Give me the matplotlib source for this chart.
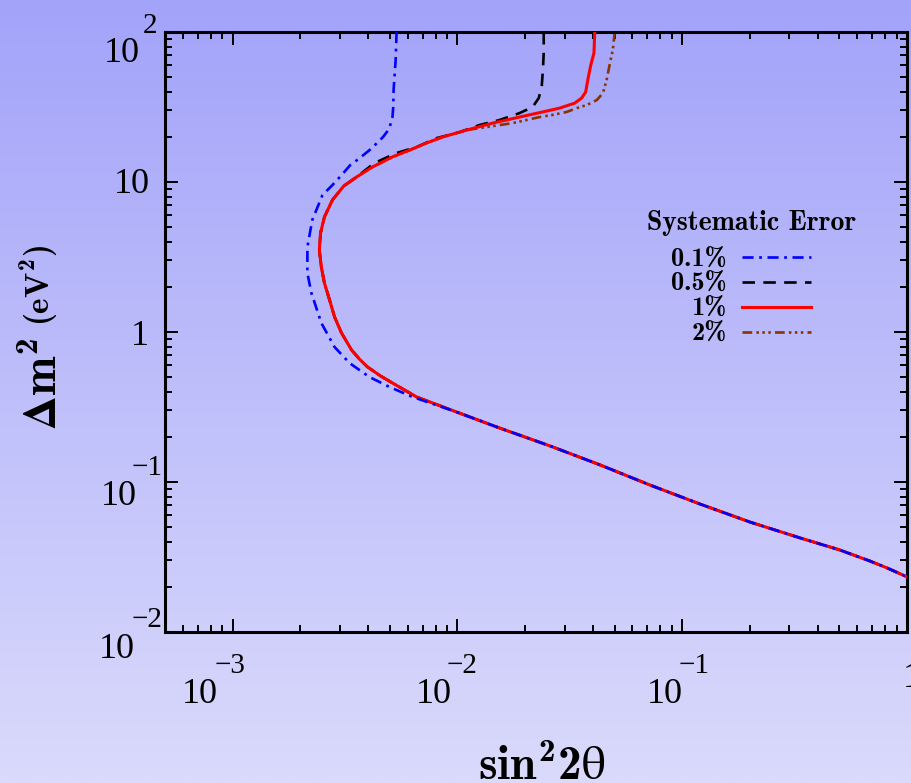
import numpy as np
import matplotlib
matplotlib.use('Agg')
import matplotlib.pyplot as plt
import matplotlib.transforms as mtransforms
from matplotlib.ticker import NullFormatter

plt.rcParams['mathtext.fontset'] = 'custom'
plt.rcParams['mathtext.rm'] = 'cmb10'
plt.rcParams['mathtext.it'] = 'cmb10'
plt.rcParams['mathtext.bf'] = 'cmb10'
plt.rcParams['mathtext.default'] = 'rm'
plt.rcParams['mathtext.fallback'] = 'stix'
plt.rcParams['lines.scale_dashes'] = False

# ---------------- data ----------------
# upper part of the 1% contour
red_upper_x = [0.0408, 0.0405, 0.0392, 0.0380, 0.0372, 0.0357, 0.0333, 0.0285, 0.0249,
               0.0189, 0.01435, 0.0110, 0.00859, 0.00729, 0.00612, 0.00514, 0.00419]
red_upper_y = [100, 72.4, 60.3, 47.9, 39.8, 36.3, 33.6, 31.1, 29.7,
               27.1, 24.7, 22.2, 19.95, 18.2, 16.3, 14.7, 12.6]
# nose region shared by 0.5%, 1%, 2%
nose_x = [0.00356, 0.00312, 0.00278, 0.00256, 0.00246, 0.00243, 0.00248, 0.00256,
          0.00270, 0.00284, 0.00305, 0.00338, 0.00366, 0.00398, 0.00455, 0.00514, 0.00658]
nose_y = [10.8, 9.40, 7.59, 5.85, 4.57, 3.52, 2.71, 2.12,
          1.63, 1.26, 0.985, 0.759, 0.661, 0.585, 0.509, 0.457, 0.369]
# low-mass tail shared by all curves
tail_x = [0.0099, 0.0154, 0.0258, 0.0431, 0.0718, 0.120, 0.200, 0.334, 0.500, 0.685,
          0.817, 1.0]
tail_y = [0.293, 0.229, 0.174, 0.130, 0.0955, 0.0713, 0.0541, 0.0424, 0.0353, 0.0297,
          0.0267, 0.0233]
# 0.5% upper part
black_upper_x = [0.0242, 0.0242, 0.0240, 0.0237, 0.0230, 0.0216, 0.0189, 0.0154, 0.01256,
                 0.01023, 0.00807, 0.00658, 0.00536, 0.00428]
black_upper_y = [100, 72.4, 55.8, 43.0, 36.3, 31.6, 28.8, 25.9, 24.0,
                 21.5, 19.6, 17.1, 15.6, 13.4]
# 2% upper part
brown_upper_x = [0.0501, 0.0491, 0.0477, 0.0461, 0.0444, 0.0417, 0.0376, 0.0340, 0.0306,
                 0.0265, 0.0232, 0.0203, 0.0176, 0.0110, 0.00859, 0.00729, 0.00612,
                 0.00514, 0.00419]
brown_upper_y = [100, 75.9, 62.1, 47.9, 39.2, 35.2, 32.6, 31.1, 29.3,
                 28.0, 27.1, 25.9, 24.7, 22.2, 19.95, 18.2, 16.3, 14.7, 12.6]
# 0.1% contour (down to where it joins the tail)
blue_x = [0.00536, 0.00531, 0.00520, 0.00518, 0.00514, 0.00497, 0.00466, 0.00432, 0.00406,
          0.00360, 0.00334, 0.00305, 0.00278, 0.00251, 0.00226, 0.00215, 0.00215, 0.00224,
          0.00248, 0.00284, 0.00331, 0.00406, 0.00499, 0.00631]
blue_y = [100, 65.1, 41.1, 31.6, 27.1, 22.6, 19.9, 17.8, 16.3,
          14.1, 13.0, 11.1, 9.55, 8.19, 5.58, 3.69, 2.47, 1.82,
          1.148, 0.794, 0.621, 0.501, 0.430, 0.369]

labels = ['0.1%', '0.5%', '1%', '2%']
legend_title = 'Systematic Error'

xticks = [1e-3, 1e-2, 1e-1, 1.0]
xtick_mant = ['10', '10', '10', '1']
xtick_exp = ['\u22123', '\u22122', '\u22121', '']
yticks = [1e2, 10.0, 1.0, 1e-1, 1e-2]
ytick_mant = ['10', '10', '1', '10', '10']
ytick_exp = ['2', '', '', '\u22121', '\u22122']

# ---------------- figure ----------------
W, H = 911, 783
fig = plt.figure(figsize=(W / 100, H / 100), dpi=100)
top_col = np.array([163, 163, 250]) / 255
bot_col = np.array([218, 218, 252]) / 255
fig.patch.set_facecolor(bot_col)
bg = fig.add_axes([0, 0, 1, 1], zorder=-5)
t = np.linspace(0, 1, 256)[:, None]
grad = (top_col[None, :] * (1 - t) + bot_col[None, :] * t)[:, None, :]
bg.imshow(grad, aspect='auto', extent=[0, 1, 0, 1], origin='upper', interpolation='bilinear')
bg.axis('off')

ax = fig.add_axes([165 / W, (H - 632) / H, 742 / W, 600 / H])
ax.set_facecolor('none')
ax.set_xscale('log')
ax.set_yscale('log')
ax.set_xlim(5e-4, 1.0)
ax.set_ylim(1e-2, 1e2)

def cat(*parts):
    return np.concatenate([np.asarray(p, float) for p in parts])

x05 = cat(black_upper_x, nose_x, tail_x); y05 = cat(black_upper_y, nose_y, tail_y)
x2 = cat(brown_upper_x, nose_x, tail_x); y2 = cat(brown_upper_y, nose_y, tail_y)
x1 = cat(red_upper_x, nose_x, tail_x); y1 = cat(red_upper_y, nose_y, tail_y)
x01 = cat(blue_x, tail_x); y01 = cat(blue_y, tail_y)

l2, = ax.plot(x2, y2, color='#8a3300', lw=1.9, dashes=[7, 3, 1.8, 2.5, 1.8, 2.5, 1.8, 3],
              label=labels[3], zorder=2)
l05, = ax.plot(x05, y05, color='black', lw=1.9, dashes=[9, 6], label=labels[1], zorder=3)
l1, = ax.plot(x1, y1, color='#ff0000', lw=2.2, label=labels[2], zorder=4)
l01, = ax.plot(x01, y01, color='#0000ff', lw=1.9, dashes=[8, 4, 2, 4], label=labels[0], zorder=5)

for s in ax.spines.values():
    s.set_linewidth(2.2)
ax.tick_params(which='both', direction='in', top=True, right=True, width=1.4)
ax.tick_params(which='major', length=9.5)
ax.tick_params(which='minor', length=5)
for a in (ax.xaxis, ax.yaxis):
    a.set_major_formatter(NullFormatter())
    a.set_minor_formatter(NullFormatter())

def off(base, dx, dy):
    return base + mtransforms.ScaledTranslation(dx / 100, -dy / 100, fig.dpi_scale_trans)

tick_font = dict(family='Liberation Serif', color='black')
# x tick labels (offsets in pixels)
x_mant_dx = [-15, -6, 1, -4]
x_exp_dx = [-18, -11, -4, 0]
for v, m, e, dm, de in zip(xticks, xtick_mant, xtick_exp, x_mant_dx, x_exp_dx):
    bt = ax.get_xaxis_transform()
    if e:
        ax.text(v, 0, m, transform=off(bt, dm, 71), ha='right', va='baseline', fontsize=26,
                clip_on=False, **tick_font)
        ax.text(v, 0, e, transform=off(bt, de, 41), ha='left', va='baseline', fontsize=21,
                clip_on=False, **tick_font)
    else:
        ax.text(v, 0, m, transform=off(bt, dm, 55), ha='left', va='baseline', fontsize=26,
                clip_on=False, **tick_font)

# y tick labels
y_mant_dx = [-25, -15, -16, -28, -30]
y_mant_dy = [30, 11, 13, 23, 26]
y_exp_dx = [-22, 0, 0, -33, -33]
y_exp_dy = [1, 0, 0, -7, -5]
for v, m, e, mx, my, ex, ey in zip(yticks, ytick_mant, ytick_exp, y_mant_dx, y_mant_dy,
                                    y_exp_dx, y_exp_dy):
    bt = ax.get_yaxis_transform()
    ax.text(0, v, m, transform=off(bt, mx, my), ha='right', va='baseline', fontsize=26,
            clip_on=False, **tick_font)
    if e:
        ax.text(0, v, e, transform=off(bt, ex, ey), ha='left', va='baseline', fontsize=21,
                clip_on=False, **tick_font)

# axis labels
fig.text(542 / W, (H - 780) / H, r'$sin^{2}2\theta$', fontsize=34, ha='center', va='baseline')
fig.text(57 / W, (H - 430) / H, r'$\mathbf{\Delta}m^{2}$', fontsize=34, rotation=90,
         rotation_mode='anchor', ha='left', va='baseline')
fig.text(49 / W, (H - 326) / H, r'$(eV^{2})$', fontsize=24, rotation=90,
         rotation_mode='anchor', ha='left', va='baseline')

# legend
ax.text((752 - 165) / 742, (632 - 230) / 600, legend_title, transform=ax.transAxes,
        ha='center', va='baseline', fontsize=20, family='cmb10')
leg = ax.legend(handles=[l01, l05, l1, l2], loc='upper right',
                bbox_to_anchor=((811 - 165) / 742, (632 - 248) / 600), frameon=False,
                markerfirst=False, prop={'family': 'cmb10', 'size': 19}, handlelength=2.6,
                handletextpad=0.6, labelspacing=0.05, borderpad=0, borderaxespad=0)

fig.savefig('out.png', dpi=100, facecolor=fig.get_facecolor())
